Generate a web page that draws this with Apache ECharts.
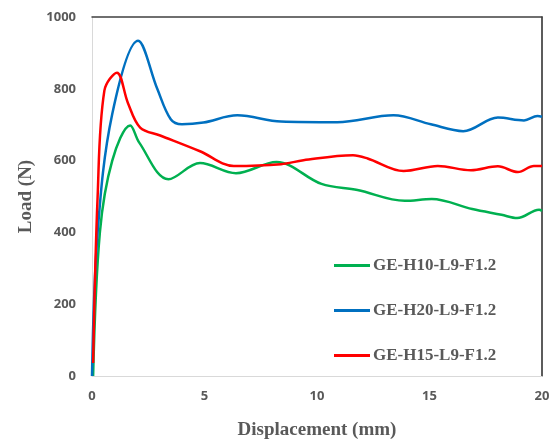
<!DOCTYPE html>
<html>
<head>
<meta charset="utf-8">
<script src="https://cdn.jsdelivr.net/npm/echarts@6/dist/echarts.min.js"></script>
<style>html,body{margin:0;padding:0;background:#fff}#chart{width:557px;height:445px}</style>
</head>
<body>
<div id="chart"></div>
<script>
// Load–displacement curves, [displacement mm, load N]
const seriesNames = ['GE-H10-L9-F1.2', 'GE-H20-L9-F1.2', 'GE-H15-L9-F1.2'];
const seriesColors = ['#00B050', '#0070C0', '#FF0000'];

const h10 = [[0.05,0],[0.35,400],[0.9,600],[1.7,698],[2.1,650],[3.4,548],[4.8,593],[6.4,565],[8.2,596],[10.2,535],[11.8,518],[13.9,488],[15.1,493],[16.9,465],[18.2,449],[18.9,440],[19.87,463],[20,460]];
const h20 = [[0,0],[0.25,400],[0.9,730],[2.05,934],[2.9,800],[3.5,715],[4.0,701],[4.95,706],[6.46,726],[8.4,709],[10.9,707],[13.4,726],[15.06,701],[16.5,682],[18.04,720],[19.2,712],[19.8,724],[20,722]];
const h15 = [[0.05,36],[0.25,500],[0.55,795],[1.11,845],[1.6,760],[2.14,692],[3.03,670],[4.8,626],[6.3,585],[8.4,590],[9.4,601],[11.6,615],[12.25,606],[13.85,571],[15.37,585],[16.84,573],[18.04,584],[18.93,568],[19.64,585],[20,585]];
const seriesData = [h10, h20, h15];

const xTicks = [0, 5, 10, 15, 20];
const yTicks = [0, 200, 400, 600, 800, 1000];

const chart = echarts.init(document.getElementById('chart'), null, {renderer: 'canvas'});

const tickLabel = {color: '#595959', fontFamily: 'Noto Sans, DejaVu Sans, sans-serif', fontWeight: 'bold', fontSize: 13, formatter: v => String(v)};
const titleFont = {color: '#595959', fontFamily: 'Liberation Serif, DejaVu Serif, serif', fontWeight: 'bold', fontSize: 19};

chart.setOption({
  animation: false,
  backgroundColor: '#ffffff',
  grid: {left: 92, right: 15, top: 17, bottom: 67},
  legend: {
    orient: 'vertical',
    left: 329,
    top: 252,
    itemGap: 28,
    itemWidth: 36,
    itemHeight: 3,
    icon: 'rect',
    data: seriesNames,
    textStyle: {color: '#595959', fontFamily: 'Liberation Serif, DejaVu Serif, serif', fontWeight: 'bold', fontSize: 17, padding: [0, 0, 0, -2]}
  },
  xAxis: [{
    type: 'value', min: xTicks[0], max: xTicks[xTicks.length - 1], interval: 5,
    name: 'Displacement (mm)', nameLocation: 'middle', nameGap: 45, nameTextStyle: titleFont,
    axisLine: {show: true, onZero: false, lineStyle: {color: '#d9d9d9', width: 1}},
    axisTick: {show: false}, splitLine: {show: false},
    axisLabel: Object.assign({margin: 14}, tickLabel)
  }, {
    type: 'value', position: 'top', min: 0, max: 20,
    axisLine: {show: true, onZero: false, lineStyle: {color: '#404040', width: 1.5}},
    axisTick: {show: false}, axisLabel: {show: false}, splitLine: {show: false}
  }],
  yAxis: [{
    type: 'value', min: yTicks[0], max: yTicks[yTicks.length - 1], interval: 200,
    name: 'Load (N)', nameLocation: 'middle', nameGap: 52, nameTextStyle: titleFont,
    axisLine: {show: true, onZero: false, lineStyle: {color: '#d9d9d9', width: 1}},
    axisTick: {show: false}, splitLine: {show: false},
    axisLabel: Object.assign({margin: 16}, tickLabel)
  }, {
    type: 'value', position: 'right', min: 0, max: 1000,
    axisLine: {show: true, onZero: false, lineStyle: {color: '#262626', width: 1.5}},
    axisTick: {show: false}, axisLabel: {show: false}, splitLine: {show: false}
  }],
  series: seriesNames.map((name, i) => ({
    name: name,
    type: 'line',
    data: seriesData[i],
    smooth: 0.35,
    showSymbol: false,
    clip: true,
    color: seriesColors[i],
    lineStyle: {width: 2.5, color: seriesColors[i]}
  }))
});
</script>
</body>
</html>
